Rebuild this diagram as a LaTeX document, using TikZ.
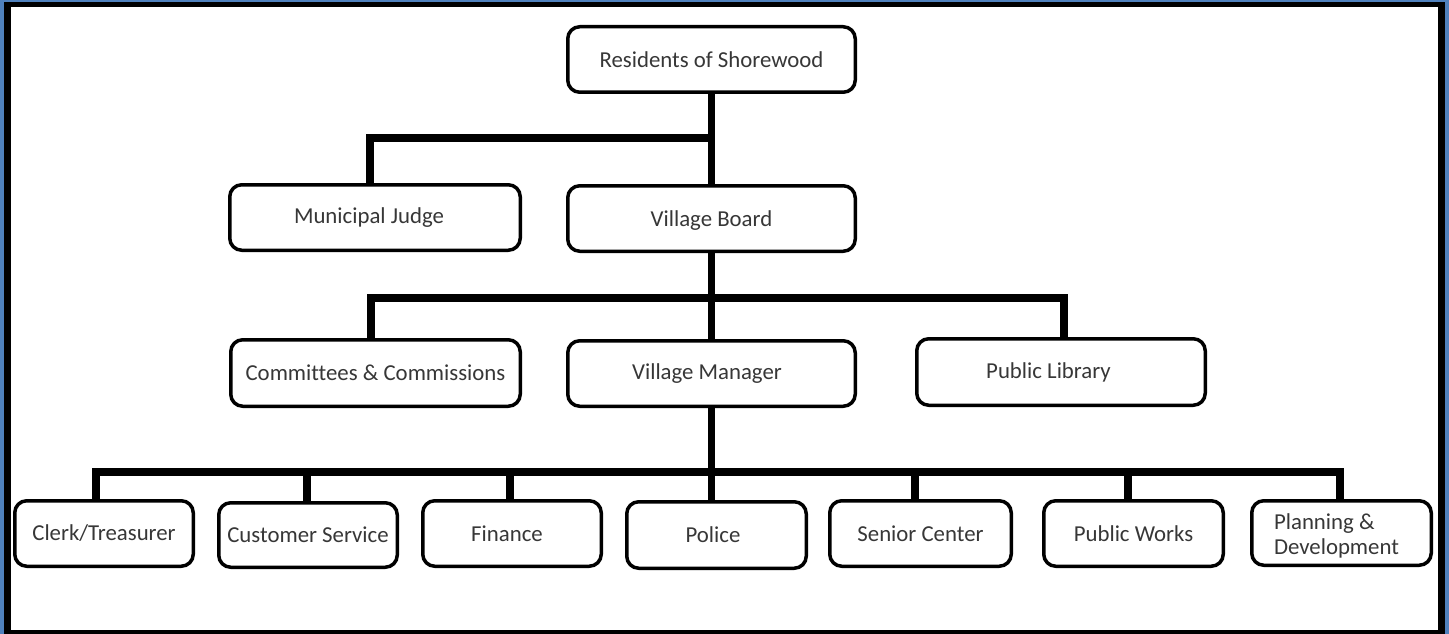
\documentclass[tikz,border=0pt]{standalone}
\usepackage{fontspec}
\setmainfont{Carlito}[Ligatures=NoCommon]
\definecolor{frameblue}{RGB}{79,129,189}
\definecolor{txtgray}{RGB}{55,55,55}
\begin{document}
\begin{tikzpicture}[x=1pt,y=-1pt,
  box/.style={draw=black, line width=3.5pt, rounded corners=12pt, fill=white,
    text=txtgray, font=\fontsize{22.8}{25}\selectfont, inner sep=0pt},
  conn/.style={draw=black, line width=7.5pt, line join=miter}]
\useasboundingbox (0,0) rectangle (1449,634);
\fill[frameblue] (0,0) rectangle (1449,634);
\fill[black] (4,2) rectangle (1445,634);
\fill[white] (11,7) rectangle (1438,630);
% nodes
\node[box, minimum width=287.5pt, minimum height=65.5pt] (res) at (711.5,59.5) {Residents of Shorewood};
\node[box, minimum width=287.5pt, minimum height=65.5pt] (vb) at (711.5,218.5) {\raisebox{-2.5pt}[\height][\depth]{Village Board}};
\node[box, minimum width=290.5pt, minimum height=65.5pt] (mj) at (375,217.5) {Municipal Judge\hspace*{12pt}};
\node[box, minimum width=289.5pt, minimum height=66.5pt] (cc) at (375.5,373) {Committees \& Commissions};
\node[box, minimum width=287.5pt, minimum height=65.5pt] (vm) at (711.5,373.5) {Village Manager\hspace*{9pt}};
\node[box, minimum width=288.5pt, minimum height=66.5pt] (pl) at (1061,372) {Public Library\hspace*{25pt}};
\node[box, minimum width=178.5pt, minimum height=65.5pt] (clerk) at (104,533.5) {Clerk/Treasurer};
\node[box, minimum width=178.5pt, minimum height=64.5pt] (cs) at (308,535) {Customer Service};
\node[box, minimum width=178.5pt, minimum height=65.5pt] (fin) at (512,533.5) {Finance\hspace*{10pt}};
\node[box, minimum width=179.5pt, minimum height=66.5pt] (pol) at (716.5,535) {Police\hspace*{7pt}};
\node[box, minimum width=181.5pt, minimum height=65.5pt] (sc) at (920.5,533.5) {Senior Center};
\node[box, minimum width=179.5pt, minimum height=65.5pt] (pw) at (1133.5,533.5) {Public Works};
\node[box, minimum width=179.5pt, minimum height=64.5pt] (pd) at (1341.5,533) {\raisebox{-4pt}[\height][\depth]{\begin{tabular}{@{}l@{}}Planning \&\\Development\end{tabular}}\hspace*{10pt}};
% junctions
\coordinate (j1) at (712,138);
\coordinate (j2) at (712,298);
\coordinate (j3) at (712,472);
% connectors
\draw[conn] (res.south) -- (vb.north);
\draw[conn] ([xshift=-5pt]mj.north) |- (j1);
\draw[conn] (vb.south) -- (vm.north);
\draw[conn] ([xshift=-4.5pt]cc.north) |- (j2);
\draw[conn] ([xshift=3pt]pl.north) |- (j2);
\draw[conn] (vm.south) -- (vm.south |- pol.north);
\draw[conn] ([xshift=-8pt]clerk.north) |- (j3);
\draw[conn] ([xshift=-1pt]cs.north) |- (j3);
\draw[conn] ([xshift=-2pt]fin.north) |- (j3);
\draw[conn] ([xshift=-5.5pt]sc.north) |- (j3);
\draw[conn] ([xshift=-5.5pt]pw.north) |- (j3);
\draw[conn] ([xshift=-1.5pt]pd.north) |- (j3);
\end{tikzpicture}
\end{document}
